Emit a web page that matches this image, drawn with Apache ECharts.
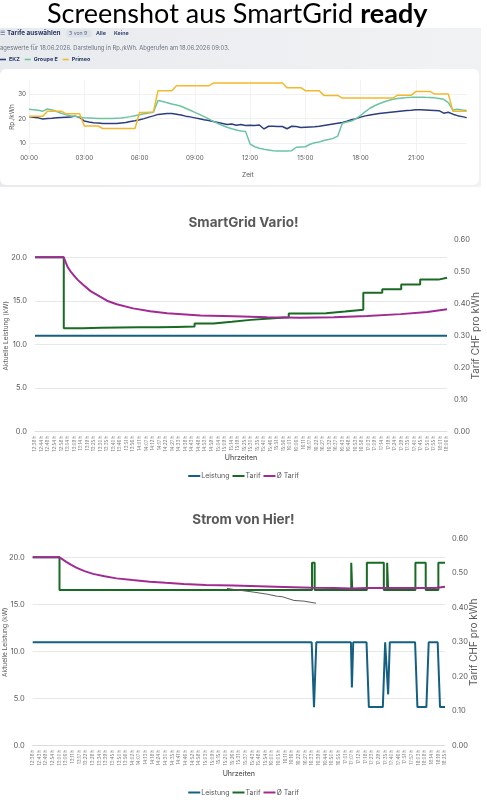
<!DOCTYPE html>
<html><head><meta charset="utf-8">
<script src="https://cdn.jsdelivr.net/npm/echarts@6/dist/echarts.min.js"></script>
<style>html,body{margin:0;padding:0;background:#fff}#c{width:487px;height:800px}</style>
</head><body><div id="c"></div>
<script>
// ---------- Top screenshot (Rp./kWh, 15-min values, 00:00 .. 23:45) ----------
const topTickHours = [0, 3, 6, 9, 12, 15, 18, 21];
const ekz = [
  20.8,20.5,20.3,19.8, 20.0,20.1,20.3,20.4, 20.5,20.6,21.0,20.5, 19.0,18.6,18.3,18.2,
  18.0,18.0,18.0,18.0, 18.2,18.4,18.8,19.1, 19.5,20.0,20.6,21.1, 21.7,21.9,22.1,22.1,
  21.8,21.5,21.0,20.7, 20.3,19.9,19.5,19.2, 18.8,18.4,18.0,17.6, 17.8,17.3,17.6,17.2,
  17.3,17.2,17.4,15.8, 16.9,16.9,16.8,16.8, 15.9,16.9,16.8,16.4, 16.5,16.6,16.7,16.9,
  17.2,17.5,17.8,18.1, 18.4,18.9,19.5,20.0, 20.6,21.1,21.5,21.8, 22.1,22.3,22.5,22.7,
  22.9,23.1,23.3,23.4, 23.6,23.6,23.5,23.4, 23.3,23.2,22.2,22.6, 21.8,21.2,20.8,20.4
];
const groupeE = [
  23.8,23.6,23.4,23.0, 23.9,23.5,22.9,22.2, 21.6,21.2,20.9,20.6, 20.3,20.2,20.1,20.0,
  20.0,20.0,20.0,20.1, 20.2,20.5,20.8,21.2, 21.6,22.0,22.3,22.6, 27.3,26.9,26.4,25.9,
  25.5,25.0,24.2,23.4, 22.5,21.7,20.8,19.9, 18.9,18.0,17.2,16.5, 15.9,15.4,15.0,14.8,
  9.7,8.6,8.0,7.6,     7.3,7.0,6.9,6.9,     6.9,7.0,8.4,8.5,     8.6,9.6,10.2,10.5,
  11.1,11.5,12.0,12.9, 18.1,18.6,19.0,20.0, 21.3,22.8,24.2,25.2, 26.0,26.7,27.3,27.8,
  28.1,28.3,28.5,28.6, 28.6,28.6,28.6,28.5, 28.4,28.1,27.8,26.5, 23.5,23.8,23.5,23.3
];
const primeo = [
  21,21,21,21, 23,23,23,23, 22,22,22,22, 17,17,17,17,
  16,16,16,16, 16,16,16,16, 22.5,22.5,22.6,22.7, 31.3,31.3,31.3,31.3,
  33.3,33.3,33.3,33.3, 33.3,33.3,33.3,33.3, 34.4,34.4,34.4,34.4, 34.4,34.4,34.4,34.4,
  34.4,34.4,34.4,34.4, 34.4,34.4,34.4,34.4, 32.5,32.5,32.5,32.5, 31.3,31.3,31.3,31.3,
  29.4,29.4,29.4,29.4, 28.3,28.3,28.3,28.3, 28.3,28.3,28.3,28.3, 28.3,28.3,28.3,28.3,
  29.5,29.5,29.5,29.5, 31,31,31,31, 30,30,30,30, 23,23,23,23
];

// ---------- SmartGrid Vario! (x = category index of the time labels) ----------
const varioLabels = ["12:38 h","12:44 h","12:48 h","12:54 h","12:58 h","13:04 h","13:09 h","13:14 h","13:19 h","13:25 h",
  "13:30 h","13:35 h","13:40 h","13:46 h","13:51 h","13:56 h","14:01 h","14:07 h","14:12 h","14:17 h",
  "14:22 h","14:27 h","14:33 h","14:38 h","14:43 h","14:48 h","14:53 h","14:59 h","15:04 h","15:09 h",
  "15:14 h","15:19 h","15:25 h","15:30 h","15:35 h","15:40 h","15:46 h","15:51 h","15:56 h","16:01 h",
  "16:06 h","16:11 h","16:17 h","16:22 h","16:27 h","16:32 h","16:37 h","16:43 h","16:48 h","16:53 h",
  "16:58 h","17:03 h","17:09 h","17:14 h","17:19 h","17:24 h","17:29 h","17:35 h","17:40 h","17:45 h",
  "17:50 h","17:55 h","18:01 h","18:06 h"];
const varioLeistungX = [0, 63];
const varioLeistung  = [11.0, 11.0];
const varioTarifX = [0, 4.4, 7.27, 10.1, 13.0, 15.9, 18.7, 21.6, 24.4, 27.3, 30.1, 33.0, 35.9, 38.8, 41.6, 44.5, 47.4, 50.2, 53.1, 56.0, 58.9, 61.7, 63];
const varioTarif  = [0.546, 0.324, 0.325, 0.326, 0.327, 0.327, 0.328, 0.329, 0.339, 0.344, 0.350, 0.354, 0.358, 0.370, 0.371, 0.376, 0.382, 0.435, 0.446, 0.461, 0.476, 0.482, 0.482];
const varioAvgX = [0, 4.4, 4.7, 5.0, 5.5, 6.0, 6.5, 7.4, 8.5, 9.95, 11, 12.5, 15, 17.6, 20.2, 25.3, 30.4, 35.5, 40.6, 45.7, 50.8, 55.9, 60, 63];
const varioAvg  = [0.546, 0.546, 0.530, 0.515, 0.500, 0.488, 0.476, 0.459, 0.440, 0.4225, 0.410, 0.399, 0.386, 0.377, 0.371, 0.364, 0.361, 0.358, 0.357, 0.358, 0.362, 0.368, 0.375, 0.383];

// ---------- Strom von Hier! ----------
const stromLabels = ["12:38 h","12:43 h","12:49 h","12:54 h","13:00 h","13:06 h","13:11 h","13:17 h","13:22 h","13:28 h",
  "13:34 h","13:39 h","13:45 h","13:50 h","13:56 h","14:02 h","14:07 h","14:13 h","14:18 h","14:24 h",
  "14:30 h","14:35 h","14:41 h","14:46 h","14:52 h","14:58 h","15:03 h","15:09 h","15:15 h","15:20 h",
  "15:26 h","15:31 h","15:37 h","15:43 h","15:48 h","15:54 h","16:00 h","16:05 h","16:11 h","16:16 h",
  "16:22 h","16:27 h","16:33 h","16:39 h","16:44 h","16:50 h","16:55 h","17:01 h","17:07 h","17:12 h",
  "17:18 h","17:23 h","17:29 h","17:35 h","17:40 h","17:46 h","17:51 h","17:57 h","18:03 h","18:08 h",
  "18:14 h","18:19 h","18:25 h"];
const stromLeistungX = [0, 41.95, 42.3, 42.65, 47.85, 48.0, 48.2, 50.2, 50.55, 52.65, 53.0, 53.15, 53.45, 53.7, 57.5, 57.85, 59.2, 59.55, 60.9, 61.25, 62];
const stromLeistung  = [11.0, 11.0, 4.1, 11.0, 11.0, 6.2, 11.0, 11.0, 4.1, 4.1, 11.0, 11.0, 5.45, 11.0, 11.0, 4.1, 4.1, 11.0, 11.0, 4.1, 4.1];
const stromTarifX = [0, 4.03, 42.0, 42.4, 47.9, 48.05, 50.25, 52.8, 53.3, 53.45, 57.55, 59.1, 61.0, 62];
const stromTarif  = [0.546, 0.451, 0.530, 0.451, 0.530, 0.451, 0.530, 0.451, 0.530, 0.451, 0.530, 0.451, 0.530, 0.530];
const stromAvgX = [0, 4.03, 4.5, 5.04, 5.8, 6.55, 7.8, 9.07, 10.8, 12.6, 15, 17.6, 20, 22.7, 26, 30.2, 34, 37.8, 42, 45.4, 47.9, 50.4, 55.4, 60.5, 62];
const stromAvg  = [0.546, 0.546, 0.540, 0.533, 0.524, 0.516, 0.506, 0.498, 0.491, 0.485, 0.480, 0.475, 0.472, 0.469, 0.466, 0.464, 0.462, 0.460, 0.458, 0.457, 0.456, 0.457, 0.457, 0.457, 0.461];
const stromGreyX = [29.2, 30.2, 33.3, 35.3, 36.8, 37.5, 39.3, 40.8, 42.6];
const stromGrey  = [0.456, 0.453, 0.445, 0.439, 0.433, 0.432, 0.421, 0.419, 0.413];

// ---------- build ----------
const zip = (xs, ys) => xs.map((x, i) => [x, ys[i]]);
const quarter = ekz.map((_, i) => i / 4);
const pad2 = n => (n < 10 ? '0' : '') + n;

const C_LEI = '#156082', C_TAR = '#196B24', C_AVG = '#A02B93';
const FONT = 'Inter';
const axisGrey = '#595959';

function leftAxis(grid, gap) {
  return {
    gridIndex: grid, type: 'value', position: 'left', min: 0, max: 22, interval: 5,
    name: 'Aktuelle Leistung (kW)', nameLocation: 'middle', nameRotate: 90, nameGap: gap, nameMoveOverlap: false,
    nameTextStyle: { fontSize: 6.5, color: axisGrey, fontFamily: FONT },
    axisLine: { show: false }, axisTick: { show: false },
    axisLabel: { formatter: v => v.toFixed(1), showMaxLabel: false, fontSize: 7.5, color: axisGrey, margin: 8, fontFamily: FONT },
    splitLine: { show: true, showMaxLine: false, lineStyle: { color: '#e2e2e2', width: 0.8 } }
  };
}
function rightAxis(grid, gap) {
  return {
    gridIndex: grid, type: 'value', position: 'right', min: 0, max: 0.6, interval: 0.1,
    name: 'Tarif CHF pro kWh', nameLocation: 'middle', nameRotate: 90, nameGap: gap, nameMoveOverlap: false,
    nameTextStyle: { fontSize: 10, color: axisGrey, fontFamily: FONT },
    axisLine: { show: false }, axisTick: { show: false },
    axisLabel: { formatter: v => v.toFixed(2), fontSize: 7.5, color: axisGrey, margin: 7, fontFamily: FONT },
    splitLine: { show: false }
  };
}
function catAxis(grid, labels, gap) {
  return {
    gridIndex: grid, type: 'value', min: 0, max: labels.length - 1, interval: 1,
    name: 'Uhrzeiten', nameLocation: 'middle', nameGap: gap, nameMoveOverlap: false,
    nameTextStyle: { fontSize: 7, color: axisGrey, fontFamily: FONT, fontWeight: 500 },
    axisLine: { show: true, lineStyle: { color: '#d9d9d9', width: 0.8 } }, axisTick: { show: false },
    splitLine: { show: false },
    axisLabel: { rotate: 90, fontSize: 4.6, color: '#7f7f7f', margin: 4, fontFamily: FONT,
      formatter: v => labels[Math.round(v)] || '' }
  };
}
const lineS = (name, xi, yi, data, color, extra) => Object.assign({
  name, type: 'line', xAxisIndex: xi, yAxisIndex: yi, data, symbol: 'none',
  lineStyle: { color, width: 2 }, itemStyle: { color }, emphasis: { disabled: true }
}, extra || {});

const option = {
  animation: false,
  backgroundColor: '#ffffff',
  title: [
    { text: '{a|Screenshot aus SmartGrid }{b|ready}', left: 47, top: 1, padding: 0,
      textStyle: { fontWeight: 'normal', rich: {
        a: { fontSize: 27, fontFamily: 'Lato', fontWeight: 'normal', color: '#000' },
        b: { fontSize: 27, fontFamily: 'Lato', fontWeight: 'bold', color: '#000' } } } },
    { text: 'SmartGrid Vario!', left: 'center', top: 215.5, padding: 0,
      textStyle: { fontSize: 13.5, fontWeight: 'bold', color: axisGrey, fontFamily: FONT } },
    { text: 'Strom von Hier!', left: 'center', top: 513, padding: 0,
      textStyle: { fontSize: 13.5, fontWeight: 'bold', color: axisGrey, fontFamily: FONT } }
  ],
  graphic: [
    { type: 'rect', z: -2, shape: { x: 0, y: 28, width: 481, height: 159 },
      style: { fill: new echarts.graphic.LinearGradient(0, 0, 1, 0, [{ offset: 0, color: '#e8ebee' }, { offset: 1, color: '#f1f2f4' }]) } },
    { type: 'rect', z: -1, shape: { x: 0, y: 69, width: 479, height: 116, r: 6 }, style: { fill: '#ffffff' } },
    { type: 'rect', z: -1, shape: { x: 66, y: 29.5, width: 26, height: 8, r: 4 }, style: { fill: '#dde2ea' } },
    { type: 'text', x: 0, y: 33.5, style: { text: '☰', fontSize: 6, fill: '#2b3a67', verticalAlign: 'middle', fontFamily: 'DejaVu Sans' } },
    { type: 'text', x: 7, y: 33.5, style: { text: 'Tarife auswählen', fontSize: 6.4, fontWeight: 'bold', fill: '#2b3a67', verticalAlign: 'middle', fontFamily: FONT } },
    { type: 'text', x: 69, y: 33.5, style: { text: '3 von 9', fontSize: 5.2, fill: '#5d6c84', verticalAlign: 'middle', fontFamily: FONT } },
    { type: 'text', x: 96, y: 33.5, style: { text: 'Alle', fontSize: 5.4, fontWeight: 600, fill: '#2b3a67', verticalAlign: 'middle', fontFamily: FONT } },
    { type: 'text', x: 114, y: 33.5, style: { text: 'Keine', fontSize: 5.4, fontWeight: 600, fill: '#2b3a67', verticalAlign: 'middle', fontFamily: FONT } },
    { type: 'text', x: 0, y: 48, style: { text: 'ageswerte für 18.06.2026. Darstellung in Rp./kWh. Abgerufen am 18.06.2026 09:03.', fontSize: 5.8, fill: '#6b7280', verticalAlign: 'middle', fontFamily: FONT } }
  ],
  legend: [
    { data: ['EKZ', 'Groupe E', 'Primeo'], left: 0, top: 57, padding: 0, icon: 'rect', itemWidth: 6, itemHeight: 1.6, itemGap: 5,
      textStyle: { fontSize: 5.4, fontWeight: 'bold', color: '#2b3a67', fontFamily: FONT, padding: [0, 0, 0, -2] } },
    { data: ['Leistung', 'Tarif', 'Ø Tarif'], left: 'center', top: 472.5, padding: 0, icon: 'rect', itemWidth: 12, itemHeight: 2, itemGap: 3,
      textStyle: { fontSize: 7, color: axisGrey, fontFamily: FONT, padding: [0, 0, 0, -4] } },
    { data: ['Leistung', 'Tarif', 'Ø Tarif'], left: 'center', top: 789, padding: 0, icon: 'rect', itemWidth: 12, itemHeight: 2, itemGap: 3,
      textStyle: { fontSize: 7, color: axisGrey, fontFamily: FONT, padding: [0, 0, 0, -4] } }
  ],
  grid: [
    { left: 29, top: 79.6, width: 437.7, height: 74.8, outerBoundsMode: 'none', containLabel: false },
    { left: 35, top: 240, width: 412, height: 191.7, outerBoundsMode: 'none', containLabel: false },
    { left: 32.7, top: 538.7, width: 412.3, height: 207, outerBoundsMode: 'none', containLabel: false }
  ],
  xAxis: [
    { gridIndex: 0, type: 'value', min: 0, max: 23.75, interval: 3,
      name: 'Zeit', nameLocation: 'middle', nameGap: 17, nameMoveOverlap: false,
      nameTextStyle: { fontSize: 6.5, color: '#555', fontFamily: FONT },
      axisLine: { show: false }, axisTick: { show: false },
      axisLabel: { formatter: v => topTickHours.indexOf(v) >= 0 ? pad2(v) + ':00' : '', showMaxLabel: false,
        fontSize: 6.3, color: '#555', margin: 1, fontFamily: FONT },
      splitLine: { show: true, showMaxLine: false, lineStyle: { color: '#f0f0f0', width: 0.8 } } },
    catAxis(1, varioLabels, 23),
    catAxis(2, stromLabels, 25)
  ],
  yAxis: [
    { gridIndex: 0, type: 'value', min: 5.5, max: 35.8, splitNumber: 3,
      name: 'Rp./kWh', nameLocation: 'middle', nameRotate: 90, nameGap: 14, nameMoveOverlap: false,
      nameTextStyle: { fontSize: 6.3, color: '#555', fontFamily: FONT },
      axisLine: { show: false }, axisTick: { show: false },
      axisLabel: { showMinLabel: false, showMaxLabel: false, fontSize: 6.3, color: '#555', margin: 3, fontFamily: FONT },
      splitLine: { show: true, showMinLine: false, showMaxLine: false, lineStyle: { color: '#eeeeee', width: 0.8 } } },
    leftAxis(1, 25.5), rightAxis(1, 24),
    leftAxis(2, 24.5), rightAxis(2, 24)
  ],
  series: [
    lineS('EKZ', 0, 0, zip(quarter, ekz), '#2d3e7c', { lineStyle: { color: '#2d3e7c', width: 1.5 } }),
    lineS('Groupe E', 0, 0, zip(quarter, groupeE), '#6cc4a1', { lineStyle: { color: '#6cc4a1', width: 1.5 } }),
    lineS('Primeo', 0, 0, zip(quarter, primeo), '#f2b92c', { lineStyle: { color: '#f2b92c', width: 1.5 } }),

    lineS('Leistung', 1, 1, zip(varioLeistungX, varioLeistung), C_LEI),
    lineS('Tarif', 1, 2, zip(varioTarifX, varioTarif), C_TAR, { step: 'end' }),
    lineS('Ø Tarif', 1, 2, zip(varioAvgX, varioAvg), C_AVG),

    lineS('Leistung', 2, 3, zip(stromLeistungX, stromLeistung), C_LEI),
    lineS('Tarif', 2, 4, zip(stromTarifX, stromTarif), C_TAR, { step: 'end' }),
    lineS('Ø Tarif', 2, 4, zip(stromAvgX, stromAvg), C_AVG),
    lineS('Linie', 2, 4, zip(stromGreyX, stromGrey), '#5a5a5a', { lineStyle: { color: '#5a5a5a', width: 1 } })
  ]
};
const chart = echarts.init(document.getElementById('c'), null, { renderer: 'canvas' });
chart.setOption(option);
</script></body></html>
